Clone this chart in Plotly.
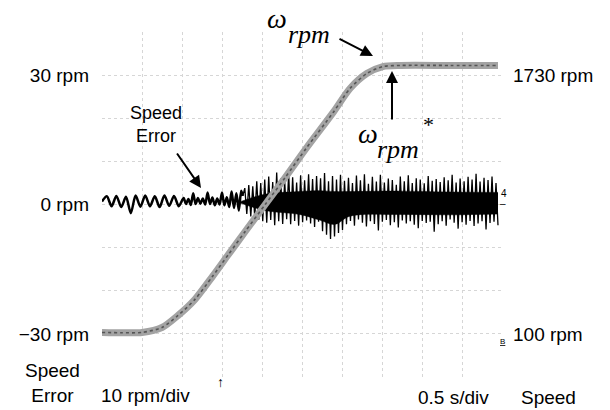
import plotly.graph_objects as go

# ---- data ----
# Speed trace (right axis, rpm) vs time (s)
speed_t = [0.0, 0.25, 0.5, 0.75, 0.95, 1.16, 1.38, 1.58, 1.79, 2.04,
           2.29, 2.56, 2.89, 3.10, 3.31, 3.51, 3.73, 4.35, 4.95]
speed_rpm = [109, 107, 109, 140, 216, 316, 461, 600, 745, 915,
             1085, 1274, 1495, 1646, 1740, 1784, 1791, 1791, 1791]

# Speed error trace (left axis, rpm), sampled in three segments
err_a_t0, err_a_t1 = 0.0, 0.96
err_a = [0.7, 1.9, -0.4, 2.0, -0.6, 1.8, -2.0, 2.1, -0.5, 2.1, -0.4, 1.9,
         -0.6, 2.1, -0.3, 2.0, -0.4]
err_b_t0, err_b_t1 = 1.02, 1.74
err_b = [1.5, 0.1, 1.3, -0.1, 2.6, 0.1, 1.5, 0.2, 1.4, 0.0, 2.8, 0.1, 1.6,
         -0.2, 1.4, 0.0, 2.8, -0.2, 1.7, -0.6, 3.0, -0.8, 2.6, -1.4, 3.2]
err_c_t0, err_c_t1 = 1.76, 4.95
err_c = [2.0, 3.8, -2.2, 4.5, -2.8, 4.2, -3.0, 5.4, -3.5, 5.0, -3.9, 5.8,
         -4.2, 6.5, -3.6, 5.2, -4.8, 7.4, -3.9, 6.0, -4.5, 5.5, -3.4, 7.2,
         -4.6, 6.3, -3.8, 5.1, -4.9, 6.8, -4.1, 5.6, -3.7, 7.0, -4.4, 5.9,
         -5.2, 6.6, -4.0, 6.1,
         -6.2, 7.3, -7.0, 5.4, -8.0, 6.6, -7.4, 5.8, -6.6, 6.9, -5.9, 5.5,
         -4.6, 6.2, -3.8, 5.0, -4.9, 6.7, -3.5, 5.6, -4.2, 7.0, -5.1, 4.8,
         -3.9, 6.4, -4.5, 5.3, -6.0, 6.9, -4.0, 5.1,
         -3.6, 6.0, -4.8, 5.7, -4.1, 4.6, -5.3, 6.5, -3.7, 5.4, -4.4, 6.8,
         -3.9, 5.0, -4.7, 6.1, -5.5, 5.8, -3.8, 4.9,
         -4.3, 6.6, -4.0, 5.5, -6.3, 5.9, -4.6, 5.2, -3.9, 6.3, -4.9, 5.6,
         -3.5, 6.9, -4.2, 5.1, -5.6, 6.0, -4.1, 5.4,
         -4.7, 6.4, -3.8, 5.8, -5.0, 7.1, -4.4, 5.3, -3.9, 6.2, -5.8, 5.7,
         -4.3, 6.5, -4.0, 5.0, -4.8]

# dense core of the error trace (envelope of the solid black band)
core_t = [1.72, 2.04, 2.47, 2.72, 2.91, 3.10, 3.72, 4.35, 4.95]
core_hi = [0.6, 2.4, 3.0, 3.2, 3.0, 3.0, 3.1, 2.9, 2.8]
core_lo = [0.4, -1.4, -2.3, -3.6, -4.6, -2.7, -2.3, -2.4, -2.2]

# axis ticks
err_ticks = [-40, -30, -20, -10, 0, 10, 20, 30, 40]
err_ticktext = ["", "\u221230 rpm", "", "", "0 rpm", "", "", "30 rpm", ""]
speed_ticks = [100, 1730]
speed_ticktext = ["100 rpm", "1730 rpm"]
time_ticks = [0.0, 0.5, 1.0, 1.5, 2.0, 2.5, 3.0, 3.5, 4.0, 4.5, 5.0]


def seg_times(t0, t1, n):
    return [t0 + (t1 - t0) * i / (n - 1) for i in range(n)]


err_ab_t = seg_times(err_a_t0, err_a_t1, len(err_a)) + seg_times(err_b_t0, err_b_t1, len(err_b))
err_ab_v = err_a + err_b
err_c_t = seg_times(err_c_t0, err_c_t1, len(err_c))

# ---- layout geometry (pixels) ----
W, H = 610, 410
L, R, T, B = 102, 108, 32, 33
PW, PH = W - L - R, H - T - B


def px(x):
    return (x - L) / PW


def py(y):
    return (H - B - y) / PH


fig = go.Figure()

# speed error trace: slow ripple part
fig.add_trace(go.Scatter(x=err_ab_t + [err_c_t[0]], y=err_ab_v + [err_c[0]], mode="lines",
                         line=dict(color="black", width=2.5, shape="spline", smoothing=0.8),
                         hoverinfo="skip", showlegend=False))
# dense core band
fig.add_trace(go.Scatter(x=core_t, y=core_lo, mode="lines",
                         line=dict(color="black", width=0.5, shape="spline"),
                         hoverinfo="skip", showlegend=False))
fig.add_trace(go.Scatter(x=core_t, y=core_hi, mode="lines", fill="tonexty",
                         fillcolor="black",
                         line=dict(color="black", width=0.5, shape="spline"),
                         hoverinfo="skip", showlegend=False))
# dense oscillation spikes
fig.add_trace(go.Scatter(x=err_c_t, y=err_c, mode="lines",
                         line=dict(color="black", width=1.3),
                         hoverinfo="skip", showlegend=False))

# speed trace: thick grey band with darker speckle (on the overlay axis, drawn on top)
fig.add_trace(go.Scatter(x=speed_t, y=speed_rpm, yaxis="y2", mode="lines",
                         line=dict(color="#a3a3a3", width=7, shape="spline", smoothing=0.7),
                         hoverinfo="skip", showlegend=False))
fig.add_trace(go.Scatter(x=speed_t, y=speed_rpm, yaxis="y2", mode="lines",
                         line=dict(color="#555555", width=1.6, shape="spline", smoothing=0.7,
                                   dash="dot"),
                         hoverinfo="skip", showlegend=False))

sans = "Liberation Sans, Arial, sans-serif"
serif = "Liberation Serif, Times New Roman, serif"

annotations = []


def txt(x, y, s, size=19, family=sans, **kw):
    annotations.append(dict(x=px(x), y=py(y), xref="paper", yref="paper",
                            text=s, showarrow=False,
                            font=dict(family=family, size=size, color="black"),
                            xanchor="center", yanchor="middle", **kw))


def arrow(hx, hy, tx, ty):
    annotations.append(dict(x=px(hx), y=py(hy), xref="paper", yref="paper",
                            ax=tx - hx, ay=ty - hy, text="", showarrow=True,
                            arrowhead=2, arrowsize=1.2, arrowwidth=2,
                            arrowcolor="black"))


# inside labels
txt(156, 124, "Speed<br>Error", size=18)
arrow(201, 188, 176, 152)
txt(277, 18, "<i>\u03c9</i>", size=28, family=serif)
txt(309, 34, "<i>rpm</i>", size=26, family=serif)
arrow(373, 56, 338, 38)
txt(368, 133, "<i>\u03c9</i>", size=28, family=serif)
txt(398, 149, "<i>rpm</i>", size=26, family=serif)
txt(428, 124, "*", size=22, family=serif)
arrow(392, 71, 392, 121)

# scope channel markers
txt(504, 194, "4", size=10)
txt(503, 203, "\u2013", size=10)
txt(502, 341, "<u>B</u>", size=8)

# bottom labels
txt(52, 383, "Speed<br>Error", size=19)
txt(145, 395, "10 rpm/div", size=19)
txt(220, 382, "\u2191", size=14)
txt(453, 397, "0.5 s/div", size=19)
txt(548, 397, "Speed", size=19)

grid = dict(showgrid=True, gridcolor="#d6d6d6", gridwidth=1, griddash="dot",
            zeroline=False, showline=False)

fig.update_layout(
    width=W, height=H,
    margin=dict(l=L, r=R, t=T, b=B),
    paper_bgcolor="white", plot_bgcolor="white",
    font=dict(family=sans, size=19, color="black"),
    xaxis=dict(range=[0, 5], tickvals=time_ticks, showticklabels=False,
               ticks="", **grid),
    yaxis=dict(range=[-40, 40], tickvals=err_ticks, ticktext=err_ticktext,
               ticks="", ticklabelstandoff=12,
               tickfont=dict(family=sans, size=19, color="black"), **grid),
    yaxis2=dict(range=[-171.67, 2001.67], overlaying="y", side="right",
                tickvals=speed_ticks, ticktext=speed_ticktext, ticks="",
                ticklabelstandoff=10, showgrid=False, zeroline=False,
                showline=False,
                tickfont=dict(family=sans, size=19, color="black")),
    annotations=annotations,
)

fig.write_html("out.html")
